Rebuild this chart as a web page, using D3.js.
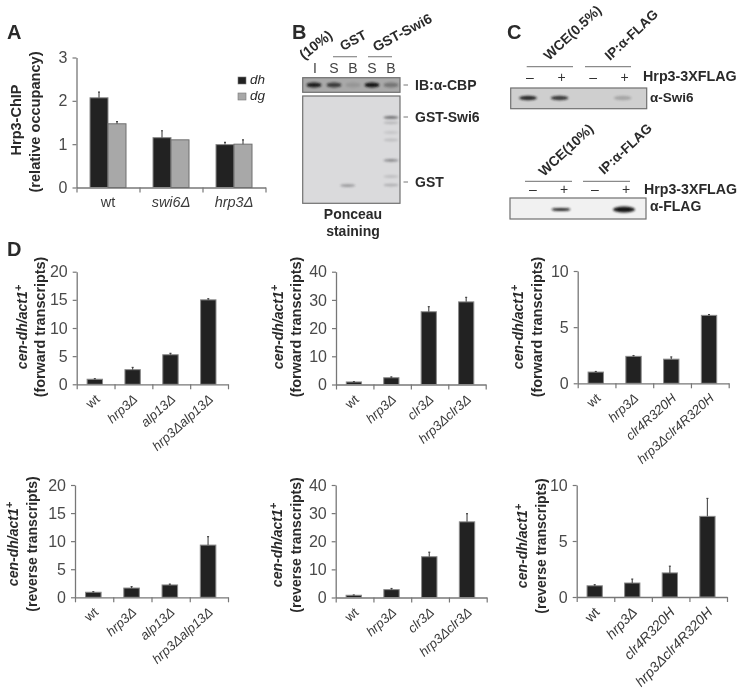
<!DOCTYPE html>
<html>
<head>
<meta charset="utf-8">
<script src="https://cdnjs.cloudflare.com/ajax/libs/d3/7.8.5/d3.min.js"></script>
<style>
html,body{margin:0;padding:0;background:#fff;}
svg{display:block;}
text{font-family:"Liberation Sans",Arial,sans-serif;fill:#2a2a2a;}
.tick text{fill:#4a4a4a;}
</style>
</head>
<body>
<svg id="fig" width="739" height="691"></svg>
<script>
// ---- Panel A data
const aCategories = ["wt", "swi6Δ", "hrp3Δ"];
const aSeries = ["dh", "dg"];
const aDh = [2.07, 1.15, 0.99];
const aDhErr = [0.13, 0.16, 0.05];
const aDg = [1.47, 1.10, 1.00];
const aDgErr = [0.05, 0, 0.10];
const aTicks = [0, 1, 2, 3];

// ---- Panel D data
const alpCats = ["wt", "hrp3Δ", "alp13Δ", "hrp3Δalp13Δ"];
const clr3Cats = ["wt", "hrp3Δ", "clr3Δ", "hrp3Δclr3Δ"];
const clr4Cats = ["wt", "hrp3Δ", "clr4R320H", "hrp3Δclr4R320H"];

const d1Values = [0.9, 2.6, 5.25, 15.0];
const d1Err = [0.1, 0.4, 0.25, 0.2];
const d2Values = [0.9, 2.4, 25.8, 29.3];
const d2Err = [0.1, 0.3, 1.8, 1.6];
const d3Values = [1.0, 2.4, 2.15, 6.05];
const d3Err = [0.05, 0.07, 0.2, 0.07];
const d4Values = [0.9, 1.65, 2.2, 9.3];
const d4Err = [0.1, 0.25, 0.15, 1.5];
const d5Values = [0.8, 2.8, 14.5, 26.9];
const d5Err = [0.1, 0.4, 1.6, 2.9];
const d6Values = [1.0, 1.25, 2.15, 7.2];
const d6Err = [0.1, 0.35, 0.6, 1.6];

const ticks20 = [0, 5, 10, 15, 20];
const ticks40 = [0, 10, 20, 30, 40];
const ticks10 = [0, 5, 10];

// ---- Blot labels and band readings
const bLanes = ["I", "S", "B", "S", "B"];
const cbpBandStrength = [0.95, 0.75, 0.12, 1, 0.35];
const ponceauLane = [1.72, 4, 4, 4, 4, 4, 4, 4];
const ponceauRf = [0.835, 0.2, 0.25, 0.34, 0.41, 0.6, 0.75, 0.83];
const ponceauStrength = [0.4, 0.65, 0.2, 0.12, 0.16, 0.5, 0.16, 0.25];
const swi6Lane = [0, 1, 3];
const swi6Strength = [0.9, 0.8, 0.22];
const flagLane = [1, 3];
const flagStrength = [0.9, 1];

const svg = d3.select("#fig");
const defs = svg.append("defs");
defs.append("filter").attr("id", "soft").attr("x", "-5%").attr("y", "-5%").attr("width", "110%").attr("height", "110%")
  .append("feGaussianBlur").attr("stdDeviation", 0.5);
defs.append("filter").attr("id", "band").attr("x", "-40%").attr("y", "-80%").attr("width", "180%").attr("height", "260%")
  .append("feGaussianBlur").attr("stdDeviation", 1.1);
const root = svg.append("g").attr("filter", "url(#soft)");

const AXIS = "#777";
const BAR = "#232323";
const BAROUT = "#8a8a8a";

function styleAxis(g) {
  g.selectAll("path").attr("stroke", AXIS).attr("stroke-width", 1.3);
  g.selectAll("line").attr("stroke", AXIS).attr("stroke-width", 1.2);
}

function drawAxes(p) {
  const y = d3.scaleLinear().domain(p.domain).range([p.y0, p.yTop]);
  const gy = root.append("g").attr("transform", `translate(${p.x0},0)`)
    .call(d3.axisLeft(y).tickValues(p.ticks).tickFormat(d3.format("d")).tickSize(4).tickPadding(5).tickSizeOuter(0));
  gy.selectAll("text").style("font-size", "16px");
  styleAxis(gy);
  const n = p.cats.length;
  const xEdge = d3.scaleLinear().domain([0, n]).range([p.x0, p.x1]);
  const gx = root.append("g").attr("transform", `translate(0,${p.y0})`)
    .call(d3.axisBottom(xEdge).tickValues(d3.range(n + 1)).tickFormat("").tickSize(5).tickSizeOuter(0));
  styleAxis(gx);
  const x = d3.scaleBand().domain(d3.range(n)).range([p.x0, p.x1]);
  return { x, y };
}

function drawBars(y, xPos, w, values, errs, fill, stroke) {
  const g = root.append("g");
  g.selectAll("rect").data(values).join("rect")
    .attr("x", (d, i) => xPos(i)).attr("width", w)
    .attr("y", d => y(d)).attr("height", d => y(0) - y(d))
    .attr("fill", fill).attr("stroke", stroke).attr("stroke-width", 1);
  const e = g.selectAll("g.err").data(values).join("g").attr("class", "err");
  e.append("line")
    .attr("x1", (d, i) => xPos(i) + w / 2).attr("x2", (d, i) => xPos(i) + w / 2)
    .attr("y1", d => y(d)).attr("y2", (d, i) => y(d + errs[i]))
    .attr("stroke", "#555").attr("stroke-width", 1.2);
  e.append("line")
    .attr("x1", (d, i) => xPos(i) + w / 2 - 1).attr("x2", (d, i) => xPos(i) + w / 2 + 1)
    .attr("y1", (d, i) => y(d + errs[i])).attr("y2", (d, i) => y(d + errs[i]))
    .attr("stroke", "#444").attr("stroke-width", 1.2)
    .attr("opacity", (d, i) => errs[i] > 0 ? 1 : 0);
}

function vText(x, cy, lines, size) {
  const t = root.append("text")
    .attr("transform", `translate(${x},${cy}) rotate(-90)`)
    .attr("text-anchor", "middle")
    .style("font-size", size + "px").style("font-weight", "bold");
  lines.forEach(l => {
    const s = t.append("tspan").text(l.t);
    if (l.i) s.style("font-style", "italic");
    if (l.sup) s.attr("dy", -5).style("font-size", (size - 3) + "px");
  });
}

function panelD(p) {
  const { x, y } = drawAxes(p);
  const w = x.bandwidth() * 0.407;
  const xPos = i => x(i) + (x.bandwidth() - w) / 2 - 0.8;
  drawBars(y, xPos, w, p.values, p.errs, BAR, BAROUT);
  root.append("g").selectAll("text").data(p.cats).join("text")
    .attr("transform", (d, i) => `translate(${x(i) + x.bandwidth() / 2 + 5},${p.y0 + 16}) rotate(${p.angle || -42})`)
    .attr("text-anchor", "end")
    .style("font-size", (p.labelSize || 13.2) + "px")
    .style("font-style", d => d === "wt" ? "normal" : "italic")
    .style("fill", "#3a3a3a")
    .text(d => d);
  vText(p.t1, p.cy, [{ t: "cen-dh/act1", i: true }, { t: "+", i: true, sup: true }], 14);
  vText(p.t2, p.cy, [{ t: p.sub }], p.subSize);
}

// ---- Panel A
{
  const p = { domain: [0, 3], y0: 187.5, yTop: 57.5, x0: 76.5, x1: 265.5, ticks: aTicks, cats: aCategories };
  const { x, y } = drawAxes(p);
  const w = 18;
  const c = i => x(i) + x.bandwidth() / 2;
  drawBars(y, i => c(i) - w, w, aDh, aDhErr, BAR, BAROUT);
  drawBars(y, i => c(i), w, aDg, aDgErr, "#a8a8a8", "#6f6f6f");
  root.append("g").selectAll("text").data(aCategories).join("text")
    .attr("x", (d, i) => c(i)).attr("y", 207)
    .attr("text-anchor", "middle").style("font-size", "14.5px")
    .style("font-style", d => d === "wt" ? "normal" : "italic")
    .style("fill", "#3a3a3a").text(d => d);
  vText(21, 120, [{ t: "Hrp3-ChIP" }], 14.5);
  vText(40, 122, [{ t: "(relative occupancy)" }], 14.6);
  const leg = d3.scaleBand().domain(aSeries).range([74, 106]);
  const legFill = d3.scaleOrdinal().domain(aSeries).range([BAR, "#a8a8a8"]);
  const lg = root.append("g").selectAll("g").data(aSeries).join("g")
    .attr("transform", d => `translate(238,${leg(d)})`);
  lg.append("rect").attr("y", 3).attr("width", 8).attr("height", 7)
    .attr("fill", legFill).attr("stroke", "#777").attr("stroke-width", 0.6);
  lg.append("text").attr("x", 12).attr("y", 10).style("font-size", "13.5px").style("font-style", "italic").text(d => d);
}

// ---- Panel D
panelD({ domain: [0, 20], y0: 384.3, yTop: 271.7, x0: 76.7, x1: 228, ticks: ticks20, cats: alpCats, values: d1Values, errs: d1Err, t1: 27, t2: 45, cy: 327, sub: "(forward transcripts)", subSize: 14.4 });
panelD({ domain: [0, 40], y0: 384.5, yTop: 271.7, x0: 336, x1: 485.7, ticks: ticks40, cats: clr3Cats, values: d2Values, errs: d2Err, t1: 283, t2: 301, cy: 327, sub: "(forward transcripts)", subSize: 14.4 });
panelD({ domain: [0, 10], y0: 383.3, yTop: 271, x0: 577.7, x1: 728.7, ticks: ticks10, cats: clr4Cats, values: d3Values, errs: d3Err, t1: 523, t2: 542, cy: 327, sub: "(forward transcripts)", subSize: 14.4 });
panelD({ domain: [0, 20], y0: 597.3, yTop: 485, x0: 75, x1: 228, ticks: ticks20, cats: alpCats, values: d4Values, errs: d4Err, t1: 18, t2: 37, cy: 544, sub: "(reverse transcripts)", subSize: 14 });
panelD({ domain: [0, 40], y0: 597.5, yTop: 485, x0: 335.7, x1: 486.7, ticks: ticks40, cats: clr3Cats, values: d5Values, errs: d5Err, t1: 282, t2: 301, cy: 545, sub: "(reverse transcripts)", subSize: 14 });
panelD({ domain: [0, 10], y0: 597, yTop: 485, x0: 576.7, x1: 727, ticks: ticks10, cats: clr4Cats, values: d6Values, errs: d6Err, t1: 527, t2: 546, cy: 546, sub: "(reverse transcripts)", subSize: 14, angle: -46, labelSize: 14 });

// ---- Shared text helpers
function label(x, y, txt, size, opt = {}) {
  return root.append("text").attr("x", x).attr("y", y)
    .attr("text-anchor", opt.anchor || "start")
    .style("font-size", size + "px")
    .style("font-weight", opt.weight || "bold")
    .style("fill", opt.fill || "#2a2a2a")
    .text(txt);
}
function angled(x, y, txt, size, deg) {
  return root.append("text").attr("transform", `translate(${x},${y}) rotate(${deg})`)
    .style("font-size", size + "px").style("font-weight", "bold").text(txt);
}
function rule(x1, x2, y, col = "#8a8a8a", sw = 1.2) {
  root.append("line").attr("x1", x1).attr("x2", x2).attr("y1", y).attr("y2", y)
    .attr("stroke", col).attr("stroke-width", sw);
}
function gel(x, y, w, h, fill) {
  root.append("rect").attr("x", x).attr("y", y).attr("width", w).attr("height", h)
    .attr("fill", fill).attr("stroke", "#707070").attr("stroke-width", 1.2);
}
function bands(data, cx, cy, w, h, col = "#161616") {
  root.append("g").selectAll("ellipse").data(data).join("ellipse")
    .attr("cx", cx).attr("cy", cy).attr("rx", w).attr("ry", h)
    .attr("fill", col).attr("opacity", d => d.s).attr("filter", "url(#band)");
}

// ---- Panel letters
label(7, 39, "A", 20);
label(292, 39, "B", 20);
label(507, 39, "C", 20);
label(7, 256, "D", 20);

// ---- Panel B
{
  const lane = d3.scaleLinear().domain([0, 4]).range([315, 391]);
  angled(304, 60, "(10%)", 14, -38);
  angled(343, 51, "GST", 13.5, -28);
  angled(376, 52, "GST-Swi6", 14, -28);
  rule(333, 357, 56.7);
  rule(368, 392, 56.7);
  root.append("g").selectAll("text").data(bLanes).join("text")
    .attr("x", (d, i) => lane(i)).attr("y", 73).attr("text-anchor", "middle")
    .style("font-size", "14px").style("fill", "#444").text(d => d);

  gel(302.7, 77.7, 97.3, 14.6, "#a9a9a9");
  bands(cbpBandStrength.map(s => ({ s })), (d, i) => lane(i) + (i === 0 ? -1 : 0), 85, 7.5, 2.6);

  gel(302.7, 96, 97.3, 107.3, "#dadadc");
  const rf = d3.scaleLinear().domain([0, 1]).range([96, 203.3]);
  const pb = ponceauRf.map((r, i) => ({ r, s: ponceauStrength[i], l: ponceauLane[i] }));
  bands(pb, d => lane(d.l), d => rf(d.r), 7.5, 1.4, "#303034");

  [["IB:α-CBP", 90], ["GST-Swi6", 122], ["GST", 187]].forEach(([t, yy]) => {
    label(415, yy, t, 14);
    rule(403.5, 408, yy - 5, "#777", 1);
  });
  label(353, 219, "Ponceau", 14, { anchor: "middle" });
  label(353, 236, "staining", 14, { anchor: "middle" });
}

// ---- Panel C
{
  const lane1 = d3.scaleLinear().domain([0, 3]).range([528, 622.7]);
  const lane2 = d3.scaleLinear().domain([0, 3]).range([530, 623]);
  angled(549, 61, "WCE(0.5%)", 13.8, -43);
  angled(610, 61, "IP:α-FLAG", 13.5, -43);
  angled(544, 177, "WCE(10%)", 13.8, -43);
  angled(604, 175, "IP:α-FLAG", 13.5, -43);
  rule(526.7, 573, 66.7);
  rule(585, 631, 66.7);
  rule(525, 572, 181.3);
  rule(583, 630, 181.3);

  const signs = ["–", "+", "–", "+"];
  root.append("g").selectAll("text").data(signs).join("text")
    .attr("x", (d, i) => lane1(i) + 2).attr("y", 82).attr("text-anchor", "middle")
    .style("font-size", "14px").style("fill", "#333").text(d => d);
  root.append("g").selectAll("text").data(signs).join("text")
    .attr("x", (d, i) => lane2(i) + 3).attr("y", 194).attr("text-anchor", "middle")
    .style("font-size", "14px").style("fill", "#333").text(d => d);

  label(643, 81, "Hrp3-3XFLAG", 14.3);
  label(644, 194, "Hrp3-3XFLAG", 14.2);
  label(650, 102, "α-Swi6", 13.5);
  label(650, 211, "α-FLAG", 14);

  gel(510.7, 88, 136, 20.7, "#cfcfcf");
  bands(swi6Lane.map((l, i) => ({ l, s: swi6Strength[i] })), d => lane1(d.l), 98, 9, 2.2);

  gel(510, 198, 136, 21, "#f1f1f1");
  const fb = flagLane.map((l, i) => ({ l, s: flagStrength[i] }));
  bands(fb, d => lane2(d.l) + (d.l === 3 ? 1 : 0), 209.5, d => d.l === 3 ? 11 : 9.5, d => d.l === 3 ? 3 : 1.6);
}
</script>
</body>
</html>
